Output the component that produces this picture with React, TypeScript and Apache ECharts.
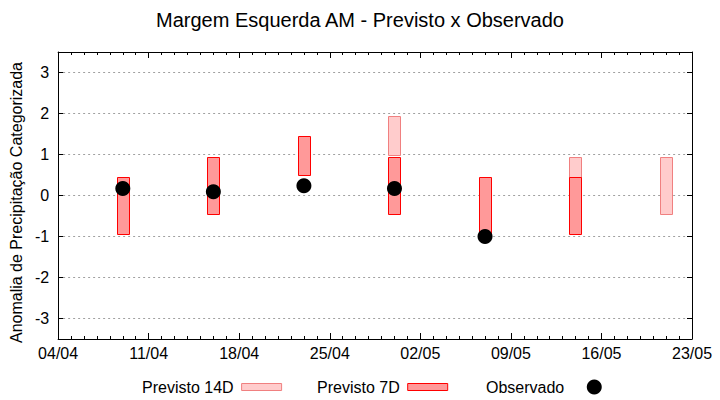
import React, { useEffect, useRef } from "react";
import * as echarts from "echarts";

// ---- data ----
const startDate = "04/04";
const tickLabels = ["04/04", "11/04", "18/04", "25/04", "02/05", "09/05", "16/05", "23/05"];

const prev14Dates = ["30/04", "14/05", "21/05"];
const prev14Low = [1.0, 0.45, -0.45];
const prev14High = [1.95, 0.95, 0.95];

const prev7Dates = ["09/04", "16/04", "23/04", "30/04", "07/05", "14/05"];
const prev7Low = [-0.95, -0.45, 0.5, -0.45, -0.95, -0.95];
const prev7High = [0.45, 0.95, 1.45, 0.95, 0.45, 0.45];

const obsDates = ["09/04", "16/04", "23/04", "30/04", "07/05"];
const obsValues = [0.17, 0.09, 0.24, 0.17, -1.0];

const FONT = "Liberation Sans, Arial, sans-serif";

function dayOffset(d: string): number {
  const [dd, mm] = d.split("/").map(Number);
  const [sd, sm] = startDate.split("/").map(Number);
  const t = Date.UTC(2021, mm - 1, dd);
  const s = Date.UTC(2021, sm - 1, sd);
  return Math.round((t - s) / 86400000);
}

function rangeRender(fill: string, stroke: string) {
  return (params: any, api: any) => {
    const x = api.value(0);
    const lo = api.value(1);
    const hi = api.value(2);
    const p1 = api.coord([x, hi]);
    const p2 = api.coord([x, lo]);
    const w = api.size([0.95, 0])[0];
    return {
      type: "rect",
      shape: { x: Math.round(p1[0] - w / 2) + 0.5, y: Math.round(p1[1]) + 0.5, width: Math.round(w), height: Math.round(p2[1] - p1[1]) },
      style: { fill, stroke, lineWidth: 1 },
    };
  };
}

export default function App() {
  const ref = useRef<HTMLDivElement>(null);
  useEffect(() => {
    if (!ref.current) return;
    const chart = echarts.init(ref.current, undefined, { renderer: "svg" });
    const d14 = prev14Dates.map((d, i) => [dayOffset(d), prev14Low[i], prev14High[i]]);
    const d7 = prev7Dates.map((d, i) => [dayOffset(d), prev7Low[i], prev7High[i]]);
    const dObs = obsDates.map((d, i) => [dayOffset(d), obsValues[i]]);
    const xMax = (tickLabels.length - 1) * 7;
    const axisLine = { show: true, onZero: false, lineStyle: { color: "#000", width: 1 } };
    const legendText = { fontFamily: FONT, fontSize: 16, color: "#000" };
    const option: any = {
      animation: false,
      backgroundColor: "#fff",
      textStyle: { fontFamily: FONT },
      title: {
        text: "Margem Esquerda AM - Previsto x Observado",
        left: "center",
        top: 10,
        padding: [0, 0, 0, 22],
        textStyle: { fontFamily: FONT, fontSize: 20, fontWeight: "normal", color: "#000" },
      },
      legend: [
        {
          left: 142, top: 379, padding: 0, align: "right", itemWidth: 40, itemHeight: 7,
          textStyle: { ...legendText, padding: [0, 3, 0, 0] },
          data: [{ name: "Previsto 14D", icon: "rect", itemStyle: { color: "#ffcccc", borderColor: "#f08080", borderWidth: 1 } }],
        },
        {
          left: 317, top: 379, padding: 0, align: "right", itemWidth: 40, itemHeight: 7,
          textStyle: { ...legendText, padding: [0, 3, 0, 0] },
          data: [{ name: "Previsto 7D", icon: "rect", itemStyle: { color: "#ff9999", borderColor: "#ff0000", borderWidth: 1 } }],
        },
        {
          left: 486, top: 379, padding: 0, align: "right", itemWidth: 40, itemHeight: 15,
          textStyle: { ...legendText, padding: [0, 5, 0, 0] },
          data: [{ name: "Observado", icon: "circle", itemStyle: { color: "#000", opacity: 1 } }],
        },
      ],
      grid: { left: 55, right: 28, top: 52, bottom: 61, containLabel: false },
      xAxis: [
        {
          type: "value", min: 0, max: xMax, interval: 7, position: "bottom",
          axisLine,
          axisTick: { show: true, inside: true, length: 6, lineStyle: { color: "#000" } },
          minorTick: { show: true, splitNumber: 7, length: 3, lineStyle: { color: "#000" } },
          axisLabel: {
            show: true, margin: 6, fontFamily: FONT, fontSize: 16, color: "#000",
            formatter: (v: number) => tickLabels[Math.round(v / 7)] ?? "",
          },
          splitLine: { show: false },
        },
        {
          type: "value", min: 0, max: xMax, interval: 7, position: "top",
          axisLine,
          axisTick: { show: true, inside: true, length: 6, lineStyle: { color: "#000" } },
          minorTick: { show: true, splitNumber: 7, length: 3, lineStyle: { color: "#000" } },
          axisLabel: { show: false },
          splitLine: { show: false },
        },
      ],
      yAxis: [
        {
          type: "value", min: -3.5, max: 3.5, splitNumber: 7, position: "left",
          name: "Anomalia de Precipitação Categorizada",
          nameLocation: "middle", nameGap: 23, nameRotate: 90,
          nameTextStyle: { fontFamily: FONT, fontSize: 16, color: "#000", padding: [0, 14, 0, 0] },
          axisLine,
          axisTick: { show: true, inside: true, length: 5, lineStyle: { color: "#000" } },
          axisLabel: {
            show: true, margin: 9, fontFamily: FONT, fontSize: 16, color: "#000",
            showMinLabel: false, showMaxLabel: false,
            formatter: (v: number) => (Number.isInteger(v) ? String(v) : ""),
          },
          splitLine: { show: true, lineStyle: { color: "#a0a0a0", width: 1, type: [2, 3] } },
        },
        {
          type: "value", min: -3.5, max: 3.5, splitNumber: 7, position: "right",
          axisLine,
          axisTick: { show: true, inside: true, length: 5, lineStyle: { color: "#000" } },
          axisLabel: { show: false },
          splitLine: { show: false },
        },
      ],
      series: [
        {
          name: "Previsto 14D", type: "custom", xAxisIndex: 0, yAxisIndex: 0,
          itemStyle: { color: "#ffcccc", borderColor: "#f08080", borderWidth: 1 },
          encode: { x: 0, y: [1, 2] },
          renderItem: rangeRender("#ffcccc", "#f08080"),
          data: d14, z: 2,
        },
        {
          name: "Previsto 7D", type: "custom", xAxisIndex: 0, yAxisIndex: 0,
          itemStyle: { color: "#ff9999", borderColor: "#ff0000", borderWidth: 1 },
          encode: { x: 0, y: [1, 2] },
          renderItem: rangeRender("#ff9999", "#ff0000"),
          data: d7, z: 3,
        },
        {
          name: "Observado", type: "scatter", xAxisIndex: 0, yAxisIndex: 0,
          symbol: "circle", symbolSize: 15,
          itemStyle: { color: "#000", opacity: 1 },
          data: dObs, z: 4,
        },
      ],
    };
    chart.setOption(option);
    return () => chart.dispose();
  }, []);
  return <div ref={ref} style={{ position: "fixed", left: 0, top: 0, width: 720, height: 400 }} />;
}
